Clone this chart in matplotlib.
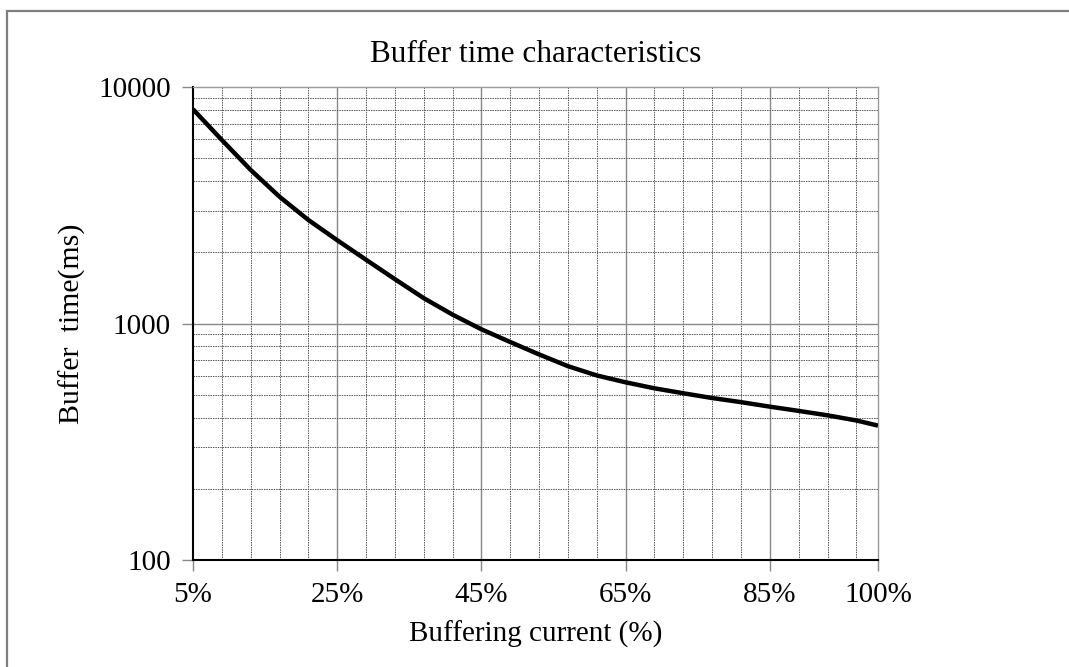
import matplotlib
matplotlib.use("Agg")
import matplotlib.pyplot as plt
from matplotlib.patches import Rectangle

# Data
current_pct = [5, 9, 13, 17, 21, 25, 29, 33, 37, 41, 45, 49, 53, 57, 61, 65,
               69, 73, 77, 81, 85, 89, 93, 97, 100]
buffer_ms = [8050, 5970, 4460, 3435, 2740, 2250, 1860, 1540, 1280, 1090, 945,
             835, 740, 660, 603, 564, 532, 507, 484, 465, 445, 427, 409, 389, 370]

x_ticks = [5, 25, 45, 65, 85, 100]
x_tick_labels = ["5%", "25%", "45%", "65%", "85%", "100%"]
x_minor = [9, 13, 17, 21, 29, 33, 37, 41, 49, 53, 57, 61, 69, 73, 77, 81, 89, 93, 97]
y_ticks = [100, 1000, 10000]
y_tick_labels = ["100", "1000", "10000"]

title = "Buffer time characteristics"
xlabel = "Buffering current (%)"
ylabel = "Buffer  time(ms)"

plt.rcParams['font.family'] = ['Liberation Serif', 'DejaVu Serif']

fig = plt.figure(figsize=(10.69, 6.67), dpi=100)
ax = fig.add_axes([193/1069, 1-560/667, (878-193)/1069, (560-87)/667])

# outer frame
fig.patches.append(Rectangle((7/1069, -0.05), 1.2, 1-11/667+0.05, transform=fig.transFigure,
                             fill=False, edgecolor='#7f7f7f', linewidth=1.6))

ax.set_yscale('log')
ax.set_xlim(5, 100)
ax.set_ylim(100, 10000)

# grid
for v in x_minor:
    ax.axvline(v, color='#555555', lw=0.7, ls=(0, (1.5, 1)), zorder=1)
for v in x_ticks[1:-1]:
    ax.axvline(v, color='#888888', lw=1.0, zorder=1)
for dec in [100, 1000]:
    for m in range(2, 10):
        ax.axhline(dec*m, color='#555555', lw=0.7, ls=(0, (1.5, 1)), zorder=1)
ax.axhline(1000, color='#888888', lw=1.0, zorder=1)

ax.plot(current_pct, buffer_ms, color='black', lw=3.2, zorder=3,
        solid_capstyle='butt', solid_joinstyle='round')

ax.set_xticks(x_ticks)
ax.set_xticklabels(x_tick_labels)
ax.set_yticks(y_ticks)
ax.set_yticklabels(y_tick_labels)
ax.yaxis.set_minor_locator(matplotlib.ticker.NullLocator())
ax.xaxis.set_minor_locator(matplotlib.ticker.NullLocator())
ax.tick_params(axis='both', which='major', direction='out', length=8, width=1,
               color='#888888', labelsize=21, pad=8)

for s in ['top', 'right']:
    ax.spines[s].set_color('#999999')
    ax.spines[s].set_linewidth(1.0)
for s in ['left', 'bottom']:
    ax.spines[s].set_color('black')
    ax.spines[s].set_linewidth(1.5)

ax.set_title(title, fontsize=22.5, pad=18)
ax.set_xlabel(xlabel, fontsize=21, labelpad=9)
ax.set_ylabel(ylabel, fontsize=21.5, labelpad=9)

fig.savefig("out.png", dpi=100, facecolor='white')
